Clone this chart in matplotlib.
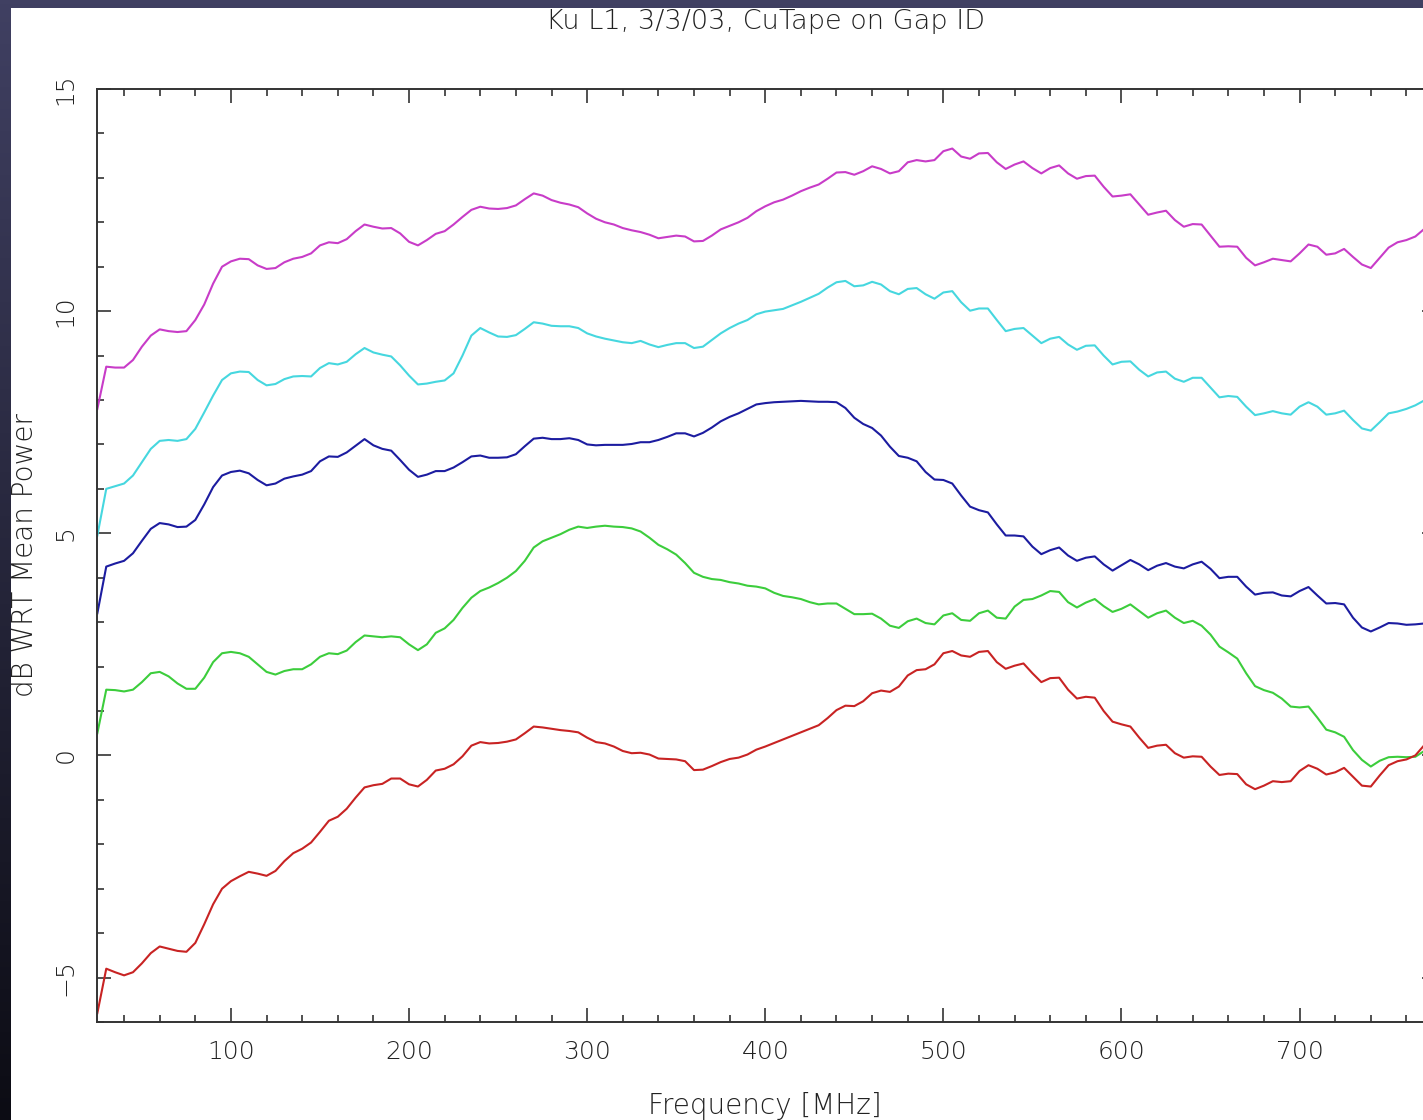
import numpy as np
import matplotlib
matplotlib.use("Agg")
import matplotlib.pyplot as plt
from matplotlib.ticker import MultipleLocator
from matplotlib.patches import Rectangle

# Frequency grid (MHz)
freq = list(range(25, 780, 5))

magenta = [7.8, 8.75, 8.73, 8.73, 8.9, 9.2, 9.45, 9.59, 9.55, 9.53,
           9.55, 9.8, 10.15, 10.62, 11.0, 11.12, 11.18, 11.17, 11.03, 10.95,
           10.97, 11.1, 11.18, 11.22, 11.3, 11.48, 11.55, 11.53, 11.62, 11.8,
           11.95, 11.9, 11.86, 11.87, 11.75, 11.56, 11.48, 11.6, 11.74, 11.8,
           11.95, 12.12, 12.28, 12.35, 12.31, 12.3, 12.32, 12.38, 12.52, 12.65,
           12.6, 12.5, 12.44, 12.4, 12.34, 12.2, 12.08, 12.0, 11.95, 11.87,
           11.82, 11.78, 11.72, 11.64, 11.67, 11.7, 11.68, 11.57, 11.58, 11.7,
           11.84, 11.92, 12.0, 12.1, 12.25, 12.36, 12.45, 12.51, 12.6, 12.7,
           12.78, 12.85, 12.98, 13.12, 13.13, 13.07, 13.15, 13.26, 13.2, 13.1,
           13.15, 13.35, 13.4, 13.37, 13.4, 13.6, 13.66, 13.48, 13.43, 13.55,
           13.56, 13.35, 13.2, 13.3, 13.37, 13.22, 13.1, 13.22, 13.28, 13.1,
           12.98, 13.04, 13.05, 12.8, 12.58, 12.6, 12.63, 12.4, 12.17, 12.22,
           12.26, 12.05, 11.9, 11.96, 11.95, 11.7, 11.45, 11.46, 11.45, 11.2,
           11.03, 11.1, 11.18, 11.15, 11.12, 11.3, 11.5, 11.45, 11.27, 11.3,
           11.4, 11.22, 11.05, 10.97, 11.2, 11.43, 11.55, 11.6, 11.68, 11.85,
           11.9]

cyan = [4.95, 6.0, 6.06, 6.12, 6.3, 6.6, 6.9, 7.08, 7.1, 7.08,
        7.12, 7.35, 7.72, 8.1, 8.45, 8.6, 8.64, 8.63, 8.45, 8.33,
        8.36, 8.47, 8.53, 8.54, 8.53, 8.72, 8.83, 8.8, 8.86, 9.03,
        9.17, 9.07, 9.02, 8.98, 8.78, 8.55, 8.35, 8.37, 8.41, 8.44,
        8.6, 9.0, 9.45, 9.62, 9.52, 9.43, 9.42, 9.46, 9.6, 9.75,
        9.72, 9.67, 9.66, 9.66, 9.62, 9.5, 9.43, 9.38, 9.34, 9.3,
        9.28, 9.33, 9.25, 9.19, 9.24, 9.28, 9.28, 9.17, 9.2, 9.35,
        9.5, 9.62, 9.72, 9.8, 9.93, 9.99, 10.02, 10.05, 10.13, 10.21,
        10.3, 10.39, 10.53, 10.65, 10.68, 10.56, 10.58, 10.66, 10.6, 10.45,
        10.38, 10.5, 10.52, 10.38, 10.28, 10.42, 10.45, 10.2, 10.01, 10.06,
        10.06, 9.8, 9.55, 9.6, 9.62, 9.45, 9.28, 9.38, 9.42, 9.25,
        9.13, 9.22, 9.23, 9.0, 8.8, 8.86, 8.87, 8.68, 8.53, 8.62,
        8.64, 8.48, 8.41, 8.5, 8.5, 8.28, 8.06, 8.09, 8.07, 7.85,
        7.66, 7.7, 7.75, 7.7, 7.67, 7.85, 7.95, 7.85, 7.67, 7.7,
        7.76, 7.55, 7.36, 7.31, 7.5, 7.7, 7.74, 7.8, 7.88, 7.99,
        8.02]

navy = [3.2, 4.25, 4.32, 4.38, 4.55, 4.83, 5.1, 5.23, 5.2, 5.14,
        5.15, 5.3, 5.65, 6.04, 6.3, 6.38, 6.41, 6.35, 6.2, 6.08,
        6.12, 6.23, 6.28, 6.32, 6.4, 6.62, 6.73, 6.72, 6.82, 6.97,
        7.12, 6.98, 6.9, 6.86, 6.65, 6.43, 6.27, 6.32, 6.4, 6.4,
        6.48, 6.6, 6.73, 6.75, 6.7, 6.7, 6.71, 6.78, 6.96, 7.13,
        7.15, 7.12, 7.12, 7.14, 7.1, 7.0, 6.98, 6.99, 6.99, 6.99,
        7.01, 7.05, 7.05, 7.1, 7.17, 7.25, 7.25, 7.18, 7.26, 7.38,
        7.52, 7.62, 7.7, 7.8, 7.9, 7.93, 7.95, 7.96, 7.97, 7.98,
        7.97, 7.96, 7.96, 7.95, 7.82, 7.6, 7.46, 7.37, 7.2, 6.95,
        6.74, 6.7, 6.62, 6.38, 6.21, 6.2, 6.12, 5.85, 5.6, 5.52,
        5.47, 5.2, 4.95, 4.95, 4.93, 4.7, 4.53, 4.62, 4.68, 4.5,
        4.38, 4.45, 4.48, 4.3, 4.16, 4.28, 4.4, 4.3, 4.17, 4.27,
        4.33, 4.25, 4.21, 4.3, 4.36, 4.2, 3.99, 4.02, 4.02, 3.8,
        3.62, 3.66, 3.67, 3.6, 3.58, 3.7, 3.79, 3.6, 3.42, 3.43,
        3.4, 3.1, 2.88, 2.79, 2.88, 2.98, 2.97, 2.94, 2.95, 2.97,
        2.95]

green = [0.5, 1.48, 1.47, 1.44, 1.48, 1.65, 1.85, 1.88, 1.78, 1.62,
         1.5, 1.5, 1.75, 2.1, 2.3, 2.33, 2.3, 2.22, 2.05, 1.88,
         1.82, 1.9, 1.94, 1.94, 2.05, 2.22, 2.3, 2.28, 2.36, 2.55,
         2.7, 2.68, 2.66, 2.68, 2.66, 2.5, 2.37, 2.5, 2.76, 2.86,
         3.05, 3.32, 3.55, 3.7, 3.78, 3.88, 4.0, 4.15, 4.38, 4.68,
         4.82, 4.9, 4.98, 5.08, 5.15, 5.12, 5.15, 5.17, 5.15, 5.14,
         5.11, 5.04, 4.9, 4.74, 4.64, 4.52, 4.33, 4.11, 4.02, 3.97,
         3.95, 3.9, 3.87, 3.82, 3.8, 3.76, 3.66, 3.59, 3.56, 3.52,
         3.45, 3.4, 3.42, 3.42, 3.3, 3.18, 3.18, 3.19, 3.08, 2.92,
         2.87, 3.02, 3.08, 2.98, 2.95, 3.15, 3.2, 3.05, 3.03, 3.2,
         3.26, 3.1, 3.08, 3.35, 3.5, 3.52, 3.6, 3.7, 3.68, 3.45,
         3.33, 3.44, 3.52, 3.36, 3.23, 3.3, 3.4, 3.25, 3.1, 3.2,
         3.26, 3.1, 2.98, 3.03, 2.92, 2.72, 2.45, 2.32, 2.18, 1.85,
         1.56, 1.47, 1.41, 1.28, 1.1, 1.08, 1.1, 0.85, 0.58, 0.52,
         0.42, 0.12, -0.1, -0.25, -0.12, -0.04, -0.03, -0.04, -0.03, 0.1,
         0.15]

red = [-5.8, -4.8, -4.88, -4.95, -4.88, -4.68, -4.45, -4.3, -4.35, -4.4,
       -4.42, -4.22, -3.8, -3.35, -3.0, -2.83, -2.72, -2.62, -2.66, -2.71,
       -2.6, -2.38, -2.2, -2.1, -1.96, -1.72, -1.47, -1.38, -1.2, -0.95,
       -0.72, -0.67, -0.64, -0.52, -0.52, -0.65, -0.7, -0.55, -0.34, -0.3,
       -0.2, -0.02, 0.22, 0.3, 0.27, 0.28, 0.31, 0.36, 0.5, 0.65,
       0.63, 0.6, 0.57, 0.55, 0.52, 0.4, 0.3, 0.27, 0.2, 0.1,
       0.05, 0.06, 0.02, -0.07, -0.08, -0.09, -0.13, -0.33, -0.32, -0.24,
       -0.15, -0.08, -0.05, 0.02, 0.13, 0.2, 0.28, 0.36, 0.44, 0.52,
       0.6, 0.68, 0.84, 1.02, 1.12, 1.11, 1.22, 1.4, 1.46, 1.43,
       1.55, 1.8, 1.92, 1.94, 2.05, 2.3, 2.35, 2.25, 2.22, 2.33,
       2.35, 2.1, 1.95, 2.02, 2.07, 1.85, 1.65, 1.74, 1.75, 1.48,
       1.28, 1.32, 1.3, 1.0, 0.76, 0.7, 0.65, 0.4, 0.17, 0.22,
       0.24, 0.05, -0.05, -0.02, -0.03, -0.25, -0.44, -0.41, -0.42, -0.65,
       -0.76, -0.68, -0.58, -0.6, -0.58, -0.35, -0.22, -0.3, -0.43, -0.38,
       -0.28, -0.48, -0.68, -0.7, -0.45, -0.22, -0.13, -0.09, 0.0, 0.23,
       0.28]

x_major = [100, 200, 300, 400, 500, 600, 700]
x_labels = ["100", "200", "300", "400", "500", "600", "700"]
y_major = [-5, 0, 5, 10, 15]
y_labels = ["\u22125", "0", "5", "10", "15"]

title = "Ku L1, 3/3/03, CuTape on Gap ID"
xlabel = "Frequency [MHz]"
ylabel = "dB WRT Mean Power"

W, H = 1423, 1120
fig = plt.figure(figsize=(W / 100, H / 100), dpi=100)

# slide background with gradient border
bg = fig.add_axes([0, 0, 1, 1], zorder=-10)
g = np.linspace(0, 1, 256)[:, None, None]
top_c = np.array([64, 64, 98]) / 255.0
bot_c = np.array([12, 12, 20]) / 255.0
img = top_c + (bot_c - top_c) * g
bg.imshow(img, aspect="auto", extent=[0, 1, 0, 1], origin="upper")
bg.add_patch(Rectangle((11 / W, 0), 1, (H - 8) / H, color="white", lw=0))
bg.set_xlim(0, 1)
bg.set_ylim(0, 1)
bg.axis("off")

left, right = 97, 1436
bottom, top = 1022, 89
ax = fig.add_axes([left / W, (H - bottom) / H, (right - left) / W, (bottom - top) / H])
ax.set_facecolor("white")

series = [(magenta, "#c83cc8"), (cyan, "#46d7df"), (navy, "#1c1ca0"),
          (green, "#3ccd3c"), (red, "#c82323")]
for vals, col in series:
    ax.plot(freq, vals, color=col, lw=1.5, solid_joinstyle="round")

ax.set_xlim(24.8, 776.6)
ax.set_ylim(-6, 15)
ax.set_xticks(x_major)
ax.set_xticklabels(x_labels)
ax.set_yticks(y_major)
ax.set_yticklabels(y_labels, rotation=90, va="center")
ax.xaxis.set_minor_locator(MultipleLocator(20))
ax.yaxis.set_minor_locator(MultipleLocator(1))

for s in ax.spines.values():
    s.set_color("#333333")
    s.set_linewidth(1.4)
ax.tick_params(which="both", direction="in", top=True, right=True,
               color="#333333", width=1.2, labelsize=18, labelcolor="#222222")
ax.tick_params(which="major", length=10)
ax.tick_params(which="minor", length=5)
ax.tick_params(axis="x", pad=13)
ax.tick_params(axis="y", pad=14)
for lbl in ax.get_xticklabels() + ax.get_yticklabels():
    lbl.set_fontweight("light")

fig.text(765 / W, 1 - 22 / H, title, ha="center", va="center",
         fontsize=19.5, color="#222222", fontweight="light")
fig.text(765 / W, 1 - 1106 / H, xlabel, ha="center", va="center",
         fontsize=20, color="#222222", fontweight="light")
fig.text(25 / W, 1 - 555 / H, ylabel, ha="center", va="center",
         rotation=90, fontsize=20, color="#222222", fontweight="light")

fig.savefig("out.png", dpi=100)
